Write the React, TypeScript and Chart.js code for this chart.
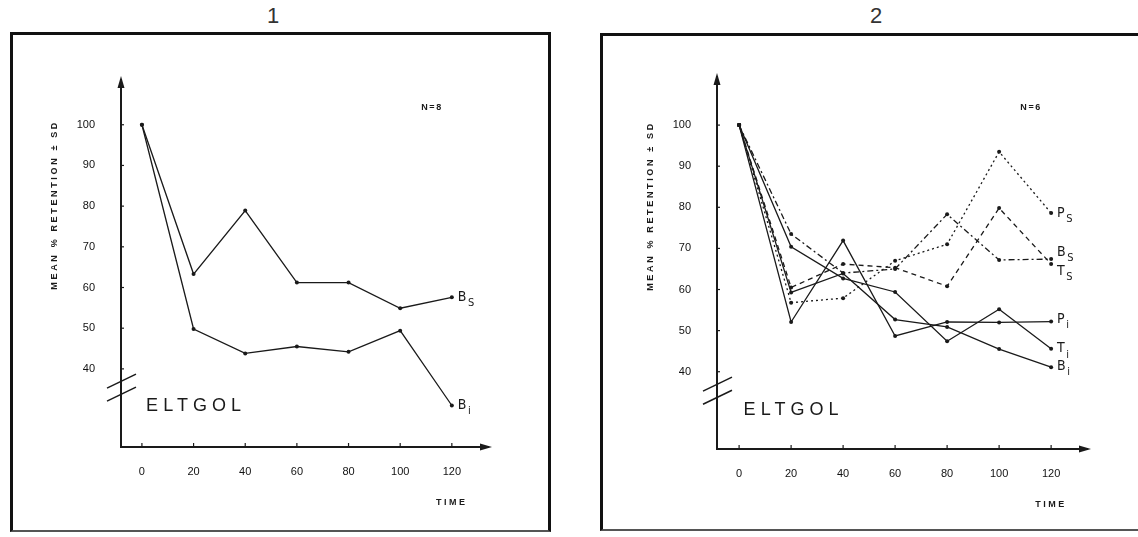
import React, { useEffect, useRef } from "react";
import { Chart, registerables } from "chart.js";

Chart.register(...registerables);

// ---------- data ----------
const times = [0, 20, 40, 60, 80, 100, 120];
const xTickLabels = ["0", "20", "40", "60", "80", "100", "120"];
const yTickValues = [40, 50, 60, 70, 80, 90, 100];
const yTickLabels = ["40", "50", "60", "70", "80", "90", "100"];

// Panel 1 (N=8)
const p1Bs = [100, 63.3, 78.9, 61.2, 61.2, 54.9, 57.6];
const p1Bi = [100, 49.8, 43.8, 45.5, 44.2, 49.4, 31];

// Panel 2 (N=6)
const p2Ps = [100, 56.8, 57.9, 67, 71, 93.5, 78.6];
const p2Bs = [100, 73.5, 64, 65, 78.3, 67.2, 67.4];
const p2Ts = [100, 60.5, 66.2, 65.3, 60.8, 79.8, 66.2];
const p2Pi = [100, 52.1, 71.9, 48.7, 52.1, 52, 52.2];
const p2Ti = [100, 70.4, 62.7, 59.4, 47.4, 55.2, 45.6];
const p2Bi = [100, 59.3, 63.9, 52.7, 50.9, 45.5, 41.1];

const panelTitles = ["1", "2"];
const nLabels = ["N=8", "N=6"];
const axisTitle = "MEAN % RETENTION ± SD";
const timeLabel = "TIME";
const studyLabel = "ELTGOL";

// ---------- helpers ----------
const SANS = "'Liberation Sans', Arial, sans-serif";
const COND = "'DejaVu Sans Condensed', 'DejaVu Sans', sans-serif";
const INK = "#1a1a1a";

function spaced(ctx: CanvasRenderingContext2D, text: string, cx: number, cy: number, font: string, target: number, rotate = false) {
  ctx.save();
  ctx.font = font;
  (ctx as any).letterSpacing = "0px";
  const w = ctx.measureText(text).width;
  const n = text.length;
  const sp = n > 1 ? Math.max(0, (target - w) / (n - 1)) : 0;
  (ctx as any).letterSpacing = sp + "px";
  ctx.fillStyle = INK;
  ctx.textBaseline = "middle";
  ctx.textAlign = "left";
  ctx.translate(cx, cy);
  if (rotate) ctx.rotate(-Math.PI / 2);
  ctx.fillText(text, -target / 2, 0);
  ctx.restore();
}

type SeriesCfg = { main: string; sub: string; data: number[]; dash: number[]; dy: number };

type PanelCfg = {
  left: number;
  width: number;
  padding: { left: number; top: number; right: number; bottom: number };
  xMin: number;
  xMax: number;
  yMin: number;
  yMax: number;
  n: string;
  series: SeriesCfg[];
};

const panels: PanelCfg[] = [
  {
    left: 0,
    width: 560,
    padding: { left: 61, top: 80, right: 72, bottom: 40 },
    xMin: -8.1,
    xMax: 134,
    yMin: 20.8,
    yMax: 111,
    n: nLabels[0],
    series: [
      { main: "B", sub: "S", data: p1Bs, dash: [], dy: 0 },
      { main: "B", sub: "i", data: p1Bi, dash: [], dy: 0 },
    ],
  },
  {
    left: 570,
    width: 568,
    padding: { left: 87, top: 77, right: 51, bottom: 38 },
    xMin: -8.5,
    xMax: 133.8,
    yMin: 21.2,
    yMax: 111.7,
    n: nLabels[1],
    series: [
      { main: "P", sub: "S", data: p2Ps, dash: [2, 3], dy: 0 },
      { main: "B", sub: "S", data: p2Bs, dash: [6, 3, 2, 3], dy: -7 },
      { main: "T", sub: "S", data: p2Ts, dash: [5, 4], dy: 7 },
      { main: "P", sub: "i", data: p2Pi, dash: [], dy: -2 },
      { main: "T", sub: "i", data: p2Ti, dash: [], dy: 0 },
      { main: "B", sub: "i", data: p2Bi, dash: [], dy: -1 },
    ],
  },
];

function makeAnnotPlugin(cfg: PanelCfg) {
  return {
    id: "annot",
    afterDraw(chart: any) {
      const ctx: CanvasRenderingContext2D = chart.ctx;
      const { left: L, top: T, right: R, bottom: B } = chart.chartArea;
      const xs = chart.scales.x;
      const ys = chart.scales.y;
      ctx.save();
      ctx.fillStyle = INK;
      ctx.strokeStyle = INK;
      // arrows
      ctx.beginPath();
      ctx.moveTo(L, T - 4);
      ctx.lineTo(L - 3.5, T + 8);
      ctx.lineTo(L + 3.5, T + 8);
      ctx.closePath();
      ctx.fill();
      ctx.beginPath();
      ctx.moveTo(R + 4, B);
      ctx.lineTo(R - 8, B - 3.5);
      ctx.lineTo(R - 8, B + 3.5);
      ctx.closePath();
      ctx.fill();
      // tick marks
      ctx.lineWidth = 1.2;
      times.forEach((t) => {
        const x = xs.getPixelForValue(t);
        ctx.beginPath();
        ctx.moveTo(x, B);
        ctx.lineTo(x, B - 4);
        ctx.stroke();
      });
      yTickValues.forEach((v) => {
        const y = ys.getPixelForValue(v);
        ctx.beginPath();
        ctx.moveTo(L, y);
        ctx.lineTo(L + 3, y);
        ctx.stroke();
      });
      // axis break marks
      ctx.lineWidth = 1.5;
      [37, 33.8].forEach((v) => {
        const y = ys.getPixelForValue(v);
        ctx.beginPath();
        ctx.moveTo(L - 14, y + 7);
        ctx.lineTo(L + 15, y - 7);
        ctx.stroke();
      });
      // y axis title
      spaced(ctx, axisTitle, L - 66, ys.getPixelForValue(80), `bold 9px ${SANS}`, 167, true);
      // N label
      spaced(ctx, cfg.n, xs.getPixelForValue(112), ys.getPixelForValue(104.3), `bold 9px ${SANS}`, 20);
      // study label
      spaced(ctx, studyLabel, xs.getPixelForValue(20), ys.getPixelForValue(30.8), `18px ${SANS}`, 95);
      // time label
      spaced(ctx, timeLabel, xs.getPixelForValue(119.5), B + 56, `bold 9px ${SANS}`, 29);
      // end labels
      cfg.series.forEach((s) => {
        const last = s.data.length - 1;
        const x = xs.getPixelForValue(times[last]) + 6;
        const y = ys.getPixelForValue(s.data[last]) + s.dy;
        ctx.font = `14px ${COND}`;
        ctx.textBaseline = "middle";
        ctx.textAlign = "left";
        ctx.fillText(s.main, x, y);
        const w = ctx.measureText(s.main).width;
        ctx.font = `11px ${COND}`;
        ctx.fillText(s.sub, x + w + 1.5, y + 6);
      });
      ctx.restore();
    },
  };
}

function Panel({ cfg }: { cfg: PanelCfg }) {
  const ref = useRef<HTMLCanvasElement>(null);
  useEffect(() => {
    const tickFont = { family: SANS, size: 11 };
    const chart = new Chart(ref.current as HTMLCanvasElement, {
      type: "line",
      data: {
        datasets: cfg.series.map((s) => ({
          label: s.main + s.sub,
          data: s.data.map((v, i) => ({ x: times[i], y: v })),
          borderColor: INK,
          backgroundColor: INK,
          borderWidth: 1.3,
          borderDash: s.dash,
          pointRadius: 2,
          pointBorderWidth: 0,
          pointBackgroundColor: INK,
          tension: 0,
          fill: false,
        })),
      },
      options: {
        animation: false,
        responsive: false,
        devicePixelRatio: 1,
        layout: { padding: cfg.padding },
        plugins: { legend: { display: false }, tooltip: { enabled: false }, title: { display: false } },
        scales: {
          x: {
            type: "linear",
            min: cfg.xMin,
            max: cfg.xMax,
            afterBuildTicks: (s: any) => {
              s.ticks = times.map((v) => ({ value: v }));
            },
            afterFit: (s: any) => {
              s.height = 50;
            },
            ticks: {
              autoSkip: false,
              maxRotation: 0,
              padding: 18,
              color: "#111",
              font: tickFont,
              callback: (_v: any, i: number) => xTickLabels[i],
            },
            grid: { display: false, drawTicks: false },
            border: { display: true, color: INK, width: 2 },
          },
          y: {
            type: "linear",
            min: cfg.yMin,
            max: cfg.yMax,
            afterBuildTicks: (s: any) => {
              s.ticks = yTickValues.map((v) => ({ value: v }));
            },
            afterFit: (s: any) => {
              s.width = 60;
            },
            ticks: {
              autoSkip: false,
              padding: 26,
              color: "#111",
              font: tickFont,
              callback: (_v: any, i: number) => yTickLabels[i],
            },
            grid: { display: false, drawTicks: false },
            border: { display: true, color: INK, width: 2 },
          },
        },
      } as any,
      plugins: [makeAnnotPlugin(cfg)],
    });
    return () => chart.destroy();
  }, []);
  return (
    <canvas
      ref={ref}
      width={cfg.width}
      height={537}
      style={{ position: "absolute", left: cfg.left, top: 0, width: cfg.width, height: 537, display: "block" }}
    />
  );
}

export default function App() {
  return (
    <div
      style={{
        position: "absolute",
        left: 0,
        top: 0,
        width: 1138,
        height: 537,
        overflow: "hidden",
        background: "#fff",
        fontFamily: SANS,
      }}
    >
      <div
        style={{
          position: "absolute",
          left: 10,
          top: 32,
          width: 541,
          height: 500,
          boxSizing: "border-box",
          borderTop: "3px solid #111",
          borderLeft: "3px solid #111",
          borderRight: "3px solid #111",
          borderBottom: "2px solid #555",
        }}
      />
      <div
        style={{
          position: "absolute",
          left: 600,
          top: 33,
          width: 600,
          height: 498,
          boxSizing: "border-box",
          borderTop: "3px solid #111",
          borderLeft: "3px solid #111",
          borderBottom: "2px solid #555",
        }}
      />
      <div style={{ position: "absolute", left: 273, top: 16, transform: "translate(-50%,-50%)", fontSize: 22, color: "#333", lineHeight: 1 }}>
        {panelTitles[0]}
      </div>
      <div style={{ position: "absolute", left: 876, top: 16, transform: "translate(-50%,-50%)", fontSize: 22, color: "#333", lineHeight: 1 }}>
        {panelTitles[1]}
      </div>
      {panels.map((p, i) => (
        <Panel key={i} cfg={p} />
      ))}
    </div>
  );
}
